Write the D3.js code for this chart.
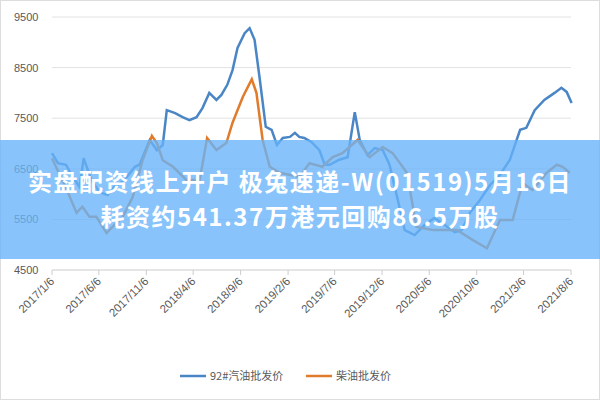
<!DOCTYPE html>
<html><head><meta charset="utf-8">
<script src="https://cdn.jsdelivr.net/npm/d3@7"></script>
<style>body{margin:0;background:#fff;font-family:"Noto Sans CJK SC","Noto Sans",sans-serif}</style>
</head><body><svg id="c" width="600" height="400"></svg>
<script>
// 汽油/柴油批发价
const yTicks = [4500, 5500, 6500, 7500, 8500, 9500];
const xTickLabels = ['2017/1/6','2017/6/6','2017/11/6','2018/4/6','2018/9/6','2019/2/6','2019/7/6','2019/12/6','2020/5/6','2020/10/6','2021/3/6','2021/8/6'];
const gasDates = ['2017-01-06','2017-01-25','2017-02-20','2017-03-10','2017-04-05','2017-04-18','2017-05-13','2017-06-08','2017-07-04','2017-07-26','2017-08-28','2017-09-30','2017-10-15','2017-11-17','2017-12-10','2017-12-29','2018-01-11','2018-02-07','2018-03-03','2018-03-25','2018-04-17','2018-05-06','2018-05-28','2018-06-20','2018-07-06','2018-07-25','2018-08-11','2018-08-27','2018-09-19','2018-10-05','2018-10-21','2018-11-07','2018-11-26','2018-12-15','2019-01-01','2019-01-20','2019-02-12','2019-02-28','2019-03-14','2019-03-30','2019-04-22','2019-05-18','2019-06-04','2019-06-20','2019-07-21','2019-08-17','2019-09-09','2019-09-25','2019-10-20','2019-11-12','2019-12-08','2019-12-30','2020-01-22','2020-02-17','2020-03-20','2020-04-21','2020-05-23','2020-06-25','2020-07-27','2020-08-19','2020-09-14','2020-10-16','2020-11-18','2020-12-20','2021-01-21','2021-02-23','2021-03-15','2021-04-11','2021-05-12','2021-06-14','2021-07-06','2021-07-23','2021-08-08'];
const gasValues = [6810,6610,6580,6380,6140,6710,6280,6040,5980,6140,6280,6540,6580,7070,6870,6970,7660,7600,7520,7460,7520,7700,8000,7860,7960,8160,8450,8890,9180,9280,9050,8260,7330,7270,6970,7110,7130,7210,7130,7110,7030,6870,6580,6580,6680,6730,7620,7070,6770,6910,6870,6580,5980,5290,5190,5390,5530,5390,5250,5290,5630,5880,6180,6380,6680,7270,7310,7660,7860,8000,8100,8020,7800];
const dieselDates = ['2017-01-06','2017-02-23','2017-03-26','2017-04-14','2017-05-07','2017-05-29','2017-07-01','2017-07-20','2017-08-22','2017-09-23','2017-10-25','2017-11-24','2017-12-10','2017-12-29','2018-01-31','2018-03-15','2018-04-27','2018-05-21','2018-06-20','2018-07-22','2018-08-11','2018-09-13','2018-10-12','2018-10-27','2018-11-16','2018-12-09','2019-01-10','2019-03-14','2019-04-16','2019-05-27','2019-06-30','2019-07-31','2019-09-18','2019-10-27','2019-12-08','2020-01-09','2020-02-24','2020-03-26','2020-05-17','2020-08-03','2020-09-24','2020-11-08','2020-12-20','2021-01-30','2021-03-03','2021-04-04','2021-05-19','2021-06-21','2021-07-10','2021-08-02'];
const dieselValues = [6710,6080,5630,5750,5550,5550,5230,5350,5550,5940,6670,7150,7010,6670,6540,6280,6280,7110,6870,7010,7410,7920,8270,8000,7070,6540,6420,6340,6610,6540,6730,6810,7070,6730,6930,6810,6420,5350,5290,5290,5090,4930,5490,5490,6220,6080,6420,6580,6540,6420];

const svg = d3.select('#c');
const parse = d3.timeParse('%Y-%m-%d');
const parseTick = d3.timeParse('%Y/%m/%d');
const x = d3.scaleTime().domain([parse('2017-01-06'), parse('2021-08-06')]).range([52, 571]);
const y = d3.scaleLinear().domain([4500, 9500]).range([270, 17]);

svg.append('rect').attr('x',0.5).attr('y',0.5).attr('width',599).attr('height',399).attr('fill','#fff').attr('stroke','#ddd');

// grid
svg.selectAll('.grid').data(yTicks).enter().append('line')
  .attr('x1',52).attr('x2',571).attr('y1',d=>y(d)).attr('y2',d=>y(d))
  .attr('stroke', d=>d===4500?'#ccc':'#e2e2e2');
svg.selectAll('.yl').data(yTicks).enter().append('text')
  .attr('x',14).attr('y',d=>y(d)+4).attr('font-size',11).attr('fill','#595959')
  .attr('font-family','Liberation Sans, sans-serif').text(d=>d);

const tickDates = xTickLabels.map(parseTick);
svg.selectAll('.xt').data(tickDates).enter().append('line')
  .attr('x1',d=>x(d)).attr('x2',d=>x(d)).attr('y1',270).attr('y2',275).attr('stroke','#ccc');
svg.selectAll('.xl').data(xTickLabels).enter().append('text')
  .attr('transform',(d,i)=>`translate(${x(tickDates[i])+3},${282}) rotate(-45)`)
  .attr('text-anchor','end').attr('font-size',11.5).attr('fill','#595959')
  .attr('font-family','Liberation Sans, sans-serif').text(d=>d);

const line = d3.line().x(d=>x(d[0])).y(d=>y(d[1]));
const gas = gasDates.map((d,i)=>[parse(d), gasValues[i]]);
const diesel = dieselDates.map((d,i)=>[parse(d), dieselValues[i]]);
svg.append('path').datum(gas).attr('d',line).attr('fill','none').attr('stroke','#4a86c5').attr('stroke-width',2.5);
svg.append('path').datum(diesel).attr('d',line).attr('fill','none').attr('stroke','#e07b2c').attr('stroke-width',2.5);

// legend
const leg = [['92#汽油批发价','#4a86c5',180],['柴油批发价','#e07b2c',306]];
leg.forEach(l=>{
  svg.append('line').attr('x1',l[2]).attr('x2',l[2]+26).attr('y1',376).attr('y2',376).attr('stroke',l[1]).attr('stroke-width',2.5);
  svg.append('text').attr('x',l[2]+30).attr('y',380).attr('font-size',11).attr('fill','#595959').text(l[0]);
});

// banner
svg.append('rect').attr('x',0).attr('y',140).attr('width',600).attr('height',119).attr('fill','rgba(102,180,250,0.78)');
[['实盘配资线上开户 极兔速递-W(01519)5月16日',191],['耗资约541.37万港元回购86.5万股',226]].forEach(t=>{
  svg.append('text').attr('x',300).attr('y',t[1]).attr('text-anchor','middle').attr('font-size',24)
    .attr('letter-spacing',1.5).attr('font-weight','bold').attr('fill','#fff').text(t[0]);
});
</script></body></html>
